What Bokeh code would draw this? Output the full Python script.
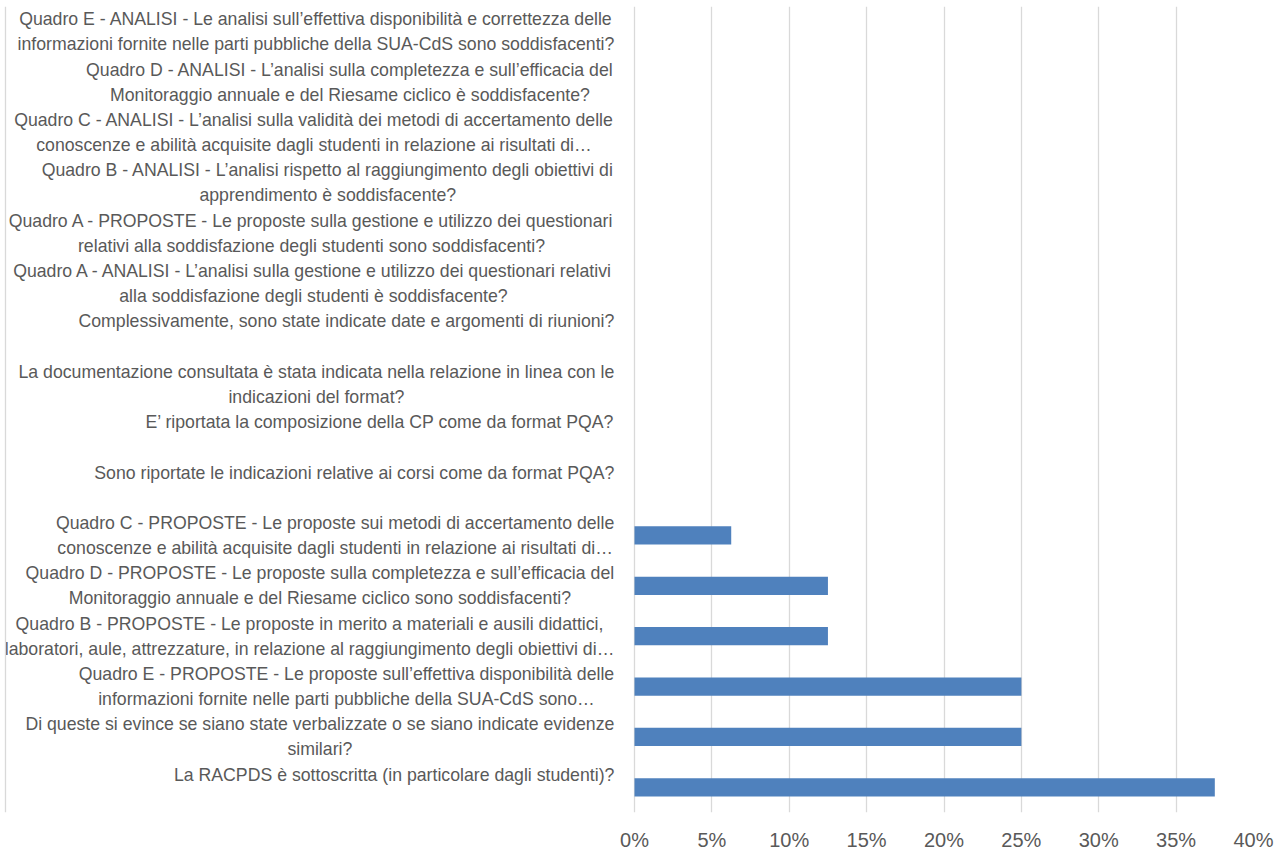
from bokeh.plotting import figure
from bokeh.models import ColumnDataSource, FactorRange, Range1d, FixedTicker, Span
from bokeh.core.properties import value
from bokeh.embed import file_html
from bokeh.resources import INLINE

# ---------------- data (bottom to top) ----------------
categories = [
    "La RACPDS è sottoscritta (in particolare dagli studenti)?",
    "Di queste si evince se siano state verbalizzate o se siano indicate evidenze\nsimilari?",
    "Quadro E - PROPOSTE - Le proposte sull’effettiva disponibilità delle\ninformazioni fornite nelle parti pubbliche della SUA-CdS sono…",
    "Quadro B - PROPOSTE - Le proposte in merito a materiali e ausili didattici,\nlaboratori, aule, attrezzature, in relazione al raggiungimento degli obiettivi di…",
    "Quadro D - PROPOSTE - Le proposte sulla completezza e sull’efficacia del\nMonitoraggio annuale e del Riesame ciclico sono soddisfacenti?",
    "Quadro C - PROPOSTE - Le proposte sui metodi di accertamento delle\nconoscenze e abilità acquisite dagli studenti in relazione ai risultati di…",
    "Sono riportate le indicazioni relative ai corsi come da format PQA?",
    "E’ riportata la composizione della CP come da format PQA?",
    "La documentazione consultata è stata indicata nella relazione in linea con le\nindicazioni del format?",
    "Complessivamente, sono state indicate date e argomenti di riunioni?",
    "Quadro A - ANALISI - L’analisi sulla gestione e utilizzo dei questionari relativi\nalla soddisfazione degli studenti è soddisfacente?",
    "Quadro A - PROPOSTE - Le proposte sulla gestione e utilizzo dei questionari\nrelativi alla soddisfazione degli studenti sono soddisfacenti?",
    "Quadro B - ANALISI - L’analisi rispetto al raggiungimento degli obiettivi di\napprendimento è soddisfacente?",
    "Quadro C - ANALISI - L’analisi sulla validità dei metodi di accertamento delle\nconoscenze e abilità acquisite dagli studenti in relazione ai risultati di…",
    "Quadro D - ANALISI - L’analisi sulla completezza e sull’efficacia del\nMonitoraggio annuale e del Riesame ciclico è soddisfacente?",
    "Quadro E - ANALISI - Le analisi sull’effettiva disponibilità e correttezza delle\ninformazioni fornite nelle parti pubbliche della SUA-CdS sono soddisfacenti?",
]
values = [0.375, 0.25, 0.25, 0.125, 0.125, 0.0625, 0, 0, 0, 0, 0, 0, 0, 0, 0, 0]

x_ticks = [0, 0.05, 0.10, 0.15, 0.20, 0.25, 0.30, 0.35, 0.40]
x_tick_labels = ["0%", "5%", "10%", "15%", "20%", "25%", "30%", "35%", "40%"]

# ---------------- layout / style constants ----------------
FIG_W, FIG_H = 1286, 855
ZERO_PX = 634          # 0% position from canvas left
END_PX = 1253          # 40% position from canvas left
FRAME_TOP, FRAME_BOTTOM = 6, 812
PX_PER_UNIT = (END_PX - ZERO_PX) / x_ticks[-1]
FONT = "Liberation Sans"
LABEL_SIZE = 17.7
LINE_H = 25
GAP = 20
TEXT_COLOR = "#595959"
BAR_COLOR = "#4f81bd"
GRID_COLOR = "#d9d9d9"

# Arial / Liberation Sans advance widths (1/1000 em)
ARIAL_W = {" ": 278, "!": 278, "'": 191, "(": 333, ")": 333, ",": 278, "-": 333, ".": 278,
           "?": 556, ":": 278, "’": 222, "…": 1000,
           "A": 667, "B": 667, "C": 722, "D": 722, "E": 667, "F": 611, "G": 778, "H": 722,
           "I": 278, "J": 500, "K": 667, "L": 556, "M": 833, "N": 722, "O": 778, "P": 667,
           "Q": 778, "R": 722, "S": 667, "T": 611, "U": 722, "V": 667, "W": 944, "X": 667,
           "Y": 667, "Z": 611,
           "a": 556, "b": 556, "c": 500, "d": 556, "e": 556, "f": 278, "g": 556, "h": 556,
           "i": 222, "j": 222, "k": 500, "l": 222, "m": 833, "n": 556, "o": 556, "p": 556,
           "q": 556, "r": 333, "s": 500, "t": 278, "u": 556, "v": 500, "w": 722, "x": 500,
           "y": 500, "z": 500, "à": 556, "è": 556, "é": 556, "ì": 278, "ò": 556, "ù": 556}


def text_width(s):
    return sum(ARIAL_W.get(ch, 556) for ch in s) / 1000.0 * LABEL_SIZE


# ---------------- sources ----------------
bars = ColumnDataSource(dict(cat=categories, val=values))

lx, ly, lt, lxo, lyo = [], [], [], [], []
for cat in categories:
    lines = cat.split("\n")
    block_w = max(text_width(l) for l in lines)
    for i, line in enumerate(lines):
        lx.append(0)
        ly.append(cat)
        lt.append(line)
        lxo.append(-(GAP + block_w / 2.0))
        lyo.append((i - 0.5) * LINE_H)
labels = ColumnDataSource(dict(x=lx, y=ly, text=lt, xo=lxo, yo=lyo))

# ---------------- figure ----------------
x_start = -ZERO_PX / PX_PER_UNIT
p = figure(
    width=FIG_W, height=FIG_H,
    x_range=Range1d(x_start, x_ticks[-1]),
    y_range=FactorRange(factors=categories, range_padding=0),
    y_axis_location=None,
    output_backend="svg", toolbar_location=None,
    min_border_left=0, min_border_right=FIG_W - END_PX,
    min_border_top=FRAME_TOP, min_border_bottom=FIG_H - FRAME_BOTTOM,
)
p.outline_line_color = None
p.background_fill_color = "white"
p.border_fill_color = "white"

ticker = FixedTicker(ticks=x_ticks)
p.xaxis.ticker = ticker
p.xaxis.major_label_overrides = dict(zip(x_ticks, x_tick_labels))
p.xaxis.axis_line_color = None
p.xaxis.major_tick_line_color = None
p.xaxis.minor_tick_line_color = None
p.xaxis.major_tick_out = 0
p.xaxis.major_tick_in = 0
p.xaxis.minor_tick_out = 0
p.xaxis.major_label_standoff = 16
p.xaxis.major_label_text_font = FONT
p.xaxis.major_label_text_font_size = "20px"
p.xaxis.major_label_text_color = TEXT_COLOR

p.xgrid.ticker = ticker
p.xgrid.grid_line_color = GRID_COLOR
p.xgrid.grid_line_width = 1.3
p.ygrid.visible = False

# chart-area left border
p.add_layout(Span(location=x_start + 5 / PX_PER_UNIT, dimension="height",
                  line_color=GRID_COLOR, line_width=1.3))

p.hbar(y="cat", left=0, right="val", height=0.36, source=bars,
       fill_color=BAR_COLOR, line_color=None)

p.text(x="x", y="y", text="text", x_offset="xo", y_offset="yo", source=labels,
       text_align="center", text_baseline="middle",
       text_font=value(FONT), text_font_size=value(f"{LABEL_SIZE}px"),
       text_color=TEXT_COLOR)

open("out.html", "w").write(file_html(p, INLINE))
